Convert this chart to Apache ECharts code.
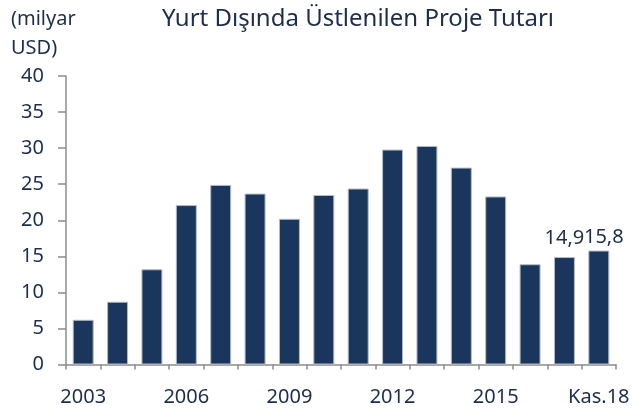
<!DOCTYPE html>
<html>
<head>
<meta charset="utf-8">
<script src="https://cdn.jsdelivr.net/npm/echarts@6/dist/echarts.min.js"></script>
<style>
  html, body { margin: 0; padding: 0; background: #fff; }
  #chart { width: 633px; height: 414px; }
</style>
</head>
<body>
<div id="chart"></div>
<script>
const categories = ['2003', '2004', '2005', '2006', '2007', '2008', '2009', '2010',
  '2011', '2012', '2013', '2014', '2015', '2016', '2017', 'Kas.18']
const values = [6.2, 8.7, 13.2, 22.1, 24.9, 23.7, 20.2, 23.5, 24.4, 29.8, 30.3, 27.3, 23.3, 13.9, 14.9, 15.8]

const textColor = '#1c2e4a'
const barColor = '#1a365d'
const axisColor = '#8c8c8c'
const font = 'Noto Sans'

const chart = echarts.init(document.getElementById('chart'), null, { renderer: 'canvas' })

// the two labels sit on one line in the reference
const labelFor = (cat) => {
  if (cat === '2017') return { show: true, distance: 9, offset: [0, 0] }
  if (cat === 'Kas.18') return { show: true, distance: 3, offset: [5, 0] }
  return { show: false }
}

const option = {
  backgroundColor: '#fff',
  animation: false,
  textStyle: { fontFamily: font },
  title: [
    {
      text: 'Yurt Dışında Üstlenilen Proje Tutarı',
      left: 353,
      textAlign: 'center',
      top: 2,
      textStyle: { fontFamily: font, fontSize: 24, fontWeight: 'normal', color: textColor }
    },
    {
      text: '(milyar\nUSD)',
      left: 6,
      top: 0,
      textStyle: { fontFamily: font, fontSize: 20, fontWeight: 'normal', color: textColor, lineHeight: 29 }
    }
  ],
  grid: {
    left: 66,
    right: 17,
    top: 76,
    bottom: 49.5
  },
  xAxis: {
    type: 'category',
    data: categories,
    boundaryGap: true,
    axisLine: { lineStyle: { color: axisColor, width: 1.5 } },
    axisTick: { show: true, interval: 0, alignWithLabel: false, length: 5, lineStyle: { color: axisColor, width: 1.5 } },
    axisLabel: {
      interval: 2,
      color: textColor,
      fontSize: 20,
      margin: 23,
      fontFamily: font
    }
  },
  yAxis: {
    type: 'value',
    min: 0,
    max: 40,
    interval: 5,
    splitLine: { show: false },
    axisLine: { show: true, lineStyle: { color: axisColor, width: 1.5 } },
    axisTick: { show: true, length: 8, lineStyle: { color: axisColor, width: 1.5 } },
    axisLabel: { color: textColor, fontSize: 20, margin: 22, fontFamily: font }
  },
  series: [{
    type: 'bar',
    data: values.map((v, i) => ({
      value: v,
      label: labelFor(categories[i])
    })),
    barCategoryGap: '39%',
    itemStyle: {
      color: barColor,
      borderColor: '#b4bac4',
      borderWidth: 1
    },
    label: {
      position: 'top',
      color: textColor,
      fontSize: 20,
      fontFamily: font,
      formatter: p => String(p.value).replace('.', ',')
    }
  }]
}

chart.setOption(option)
</script>
</body>
</html>
